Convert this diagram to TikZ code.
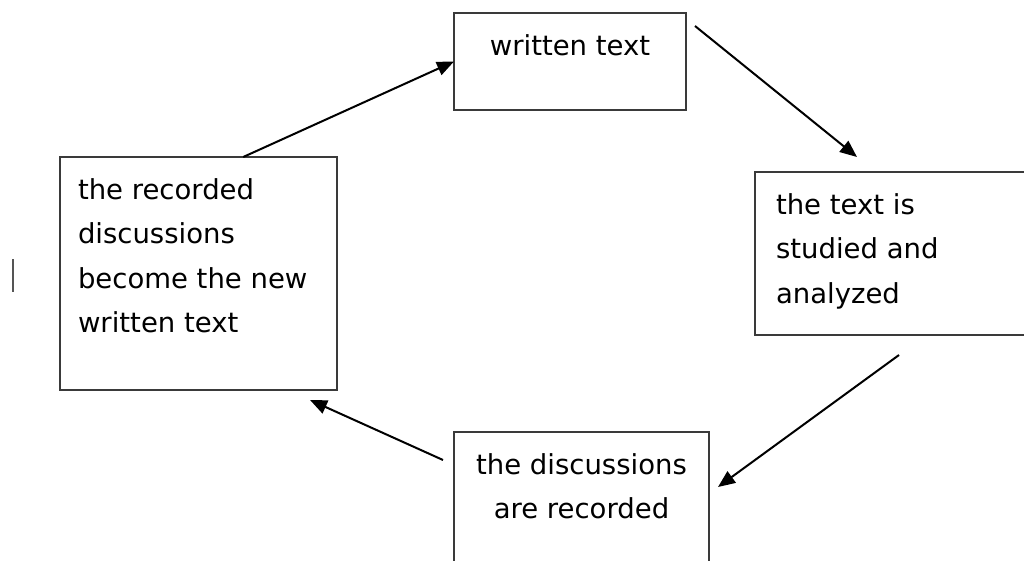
\documentclass[tikz,border=0pt]{standalone}
\usepackage{fontspec}
\setmainfont{DejaVu Sans}
\usetikzlibrary{arrows.meta}

\definecolor{boxgray}{HTML}{3A3A3A}
\definecolor{cursorgray}{HTML}{555555}

\begin{document}
\begin{tikzpicture}[x=1pt,y=-1pt,>={Triangle[length=17pt,width=14pt]},
  stage/.style={draw=boxgray,line width=1.5pt,anchor=north west,outer sep=0pt,inner ysep=21.5pt,
    font=\fontsize{27.5}{44.5}\selectfont},
  flow/.style={->,line width=2pt}]
\useasboundingbox (0,0) rectangle (1024,561);
\clip (0,0) rectangle (1024,561);

\node[stage,inner xsep=10pt] (written) at (454,13) {\parbox[t][54pt][t]{212pt}{\centering written text}};
\node[stage,inner xsep=21pt] (analyzed) at (755,172) {\parbox[t][120pt][t]{258pt}{the text is\\studied and\\analyzed}};
\node[stage,inner xsep=10pt] (recording) at (454,432) {\parbox[t][160pt][t]{235pt}{\centering the discussions\\are recorded}};
\node[stage,inner xsep=18pt] (recorded) at (60,157) {\parbox[t][190pt][t]{241pt}{the recorded\\discussions\\become the new\\written text}};

% the cycle
\draw[flow] (recorded.69.5) -- (written.west);
\draw[flow] ([xshift=9pt,yshift=-13pt]written.north east) -- ([xshift=102pt,yshift=15pt]analyzed.north west);
\draw[flow] ([xshift=144pt,yshift=-20pt]analyzed.south west) -- ([xshift=9pt,yshift=-55pt]recording.north east);
\draw[flow] ([xshift=-11pt,yshift=-28pt]recording.north west) -- ([xshift=-27pt,yshift=-10pt]recorded.south east);

\draw[cursorgray,line width=1.5pt] (13,259) -- (13,292);
\end{tikzpicture}
\end{document}
